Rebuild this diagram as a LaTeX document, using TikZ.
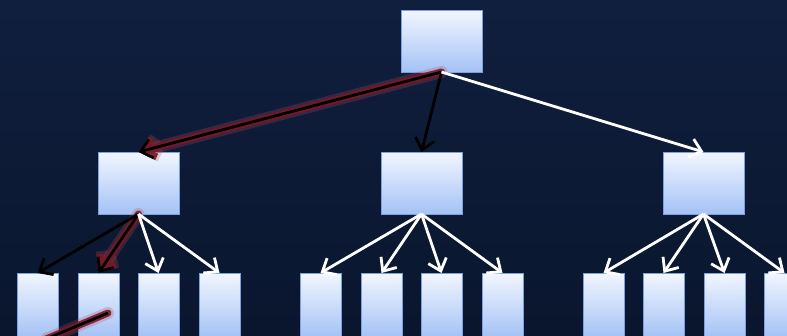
\documentclass[tikz,border=0pt]{standalone}
\usetikzlibrary{arrows.meta}
\definecolor{bgtop}{RGB}{16,31,62}
\definecolor{bgbot}{RGB}{10,22,46}
\definecolor{boxtop}{RGB}{242,246,255}
\definecolor{boxbot}{RGB}{164,194,245}
\definecolor{boxedge}{RGB}{125,160,222}
\definecolor{glowred}{RGB}{120,24,36}
\definecolor{glowpink}{RGB}{190,70,85}
\tikzset{
  box/.style={draw=boxedge, line width=1pt, top color=boxtop, bottom color=boxbot,
    anchor=north west, inner sep=0pt, outer sep=0pt},
  bigbox/.style={box, minimum width=81pt, minimum height=62pt},
  leaf/.style={box, minimum width=41pt, minimum height=64pt},
  tipv/.style={-{Straight Barb[length=11pt,width=19pt]}},
  arr/.style={line width=2.8pt, tipv},
  warr/.style={arr, white},
  barr/.style={arr, black},
  glowA/.style={line width=12pt, glowpink, opacity=0.25, line cap=round, line join=round},
  glowB/.style={line width=7pt, glowred, opacity=0.9, line cap=round, line join=round},
}
\begin{document}
\begin{tikzpicture}[x=1pt,y=-1pt]
\useasboundingbox (0,0) rectangle (787,335);
\clip (0,0) rectangle (787,335);
\fill[top color=bgtop, bottom color=bgbot] (0,0) rectangle (787,335);

% boxes
\node[bigbox] (top) at (401,10) {};
\node[bigbox] (m1) at (98,152) {};
\node[bigbox] (m2) at (381,152) {};
\node[bigbox] (m3) at (663,152) {};
\node[leaf] (l1) at (17,273) {};
\node[leaf] (l2) at (78,273) {};
\node[leaf] (l3) at (138,273) {};
\node[leaf] (l4) at (199,273) {};
\node[leaf] (l5) at (300,273) {};
\node[leaf] (l6) at (361,273) {};
\node[leaf] (l7) at (421,273) {};
\node[leaf] (l8) at (482,273) {};
\node[leaf] (l9) at (583,273) {};
\node[leaf] (l10) at (643,273) {};
\node[leaf] (l11) at (704,273) {};
\node[leaf] (l12) at (764,273) {};

\coordinate (r1) at (108,313);
\coordinate (r2) at (46,339);

% glowing (highlighted) path
\draw[glowA, tipv] (top.south) -- (m1.north);
\draw[glowB, tipv] (top.south) -- (m1.north);
\draw[glowA, tipv] (m1.south) -- (l2.north);
\draw[glowB, tipv] (m1.south) -- (l2.north);
\draw[glowA] (r1) -- (r2);
\draw[glowB] (r1) -- (r2);

% arrows from the top box
\draw[barr] (top.south) -- (m1.north);
\draw[barr] (top.south) -- (m2.north);
\draw[warr] (top.south) -- (m3.north);

% arrows from the middle boxes
\draw[barr] (m1.south) -- (l1.north);
\draw[barr] (m1.south) -- (l2.north);
\draw[warr] (m1.south) -- (l3.north);
\draw[warr] (m1.south) -- (l4.north);
\draw[warr] (m2.south) -- (l5.north);
\draw[warr] (m2.south) -- (l6.north);
\draw[warr] (m2.south) -- (l7.north);
\draw[warr] (m2.south) -- (l8.north);
\draw[warr] (m3.south) -- (l9.north);
\draw[warr] (m3.south) -- (l10.north);
\draw[warr] (m3.south) -- (l11.north);
\draw[warr] (m3.south) -- (l12.north);

\draw[line width=2.8pt, black] (r1) -- (r2);
\end{tikzpicture}
\end{document}
